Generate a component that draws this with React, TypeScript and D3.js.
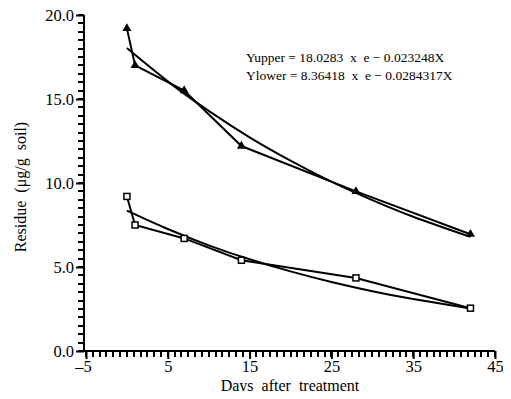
import { useEffect, useRef } from "react";
import * as d3 from "d3";

// measured residues (days, µg/g)
const days = [0, 1, 7, 14, 28, 42];
const upperVals = [19.2, 17.0, 15.5, 12.2, 9.5, 6.95];
const lowerVals = [9.2, 7.5, 6.7, 5.4, 4.35, 2.55];

// fitted curves
const fitDays = [0, 5, 10, 15, 20, 25, 30, 35, 42];
const upperFit = [18.03, 16.05, 14.29, 12.72, 11.33, 10.08, 8.98, 7.99, 6.79];
const lowerFit = [8.36, 7.26, 6.29, 5.46, 4.74, 4.11, 3.56, 3.09, 2.53];

const xTicks = [-5, 5, 15, 25, 35, 45];
const yTicks = [0, 5, 10, 15, 20];
const xMinorTicks = d3.range(0, 61).map(i => -5 + (i * 10) / 12);
const yMinorTicks = d3.range(0, 41).map(i => i * 0.5);

const equations = [
    "Yupper = 18.0283  x  e \u2212 0.023248X",
    "Ylower = 8.36418  x  e \u2212 0.0284317X"
];

const FONT = "'Liberation Serif', 'Times New Roman', serif";

export default function App() {
    const ref = useRef<SVGSVGElement>(null);

    useEffect(() => {
        const axisX = 84;
        const ink = "#000";

        const x = d3.scaleLinear().domain([-5, 45]).range([86, 495]);
        const y = d3.scaleLinear().domain([0, 20]).range([351, 15]);

        const svg = d3.select(ref.current)
            .style("font-family", FONT);
        svg.selectAll("*").remove();

        // minor ticks as single paths
        const yMinorPath = yMinorTicks
            .map(v => `M${axisX - 6},${Math.round(y(v))}H${axisX}`)
            .join("");
        svg.append("path")
            .attr("d", yMinorPath)
            .attr("stroke", ink)
            .attr("stroke-width", 2)
            .attr("fill", "none");

        const xMinorPath = xMinorTicks
            .map(v => `M${Math.round(x(v))},${y(0)}V${y(0) + 6}`)
            .join("");
        svg.append("path")
            .attr("d", xMinorPath)
            .attr("stroke", ink)
            .attr("stroke-width", 2)
            .attr("fill", "none");

        const yMajor = svg.append("g")
            .attr("transform", `translate(${axisX},0)`)
            .call(d3.axisLeft(y).tickValues(yTicks).tickSize(8).tickPadding(2).tickFormat(d3.format(".1f")));
        yMajor.select(".domain").remove();
        yMajor.selectAll("line").attr("stroke", ink).attr("stroke-width", 2);
        yMajor.selectAll("text")
            .attr("font-family", FONT)
            .attr("font-size", 16.5)
            .attr("fill", ink)
            .attr("dy", "0.35em");

        const xMajor = svg.append("g")
            .attr("transform", `translate(0,${y(0)})`)
            .call(d3.axisBottom(x).tickValues(xTicks).tickSize(8).tickPadding(1)
                .tickFormat(d => ((d as number) < 0 ? "\u2013" + Math.abs(d as number) : String(d))));
        xMajor.select(".domain").remove();
        xMajor.selectAll("line").attr("stroke", ink).attr("stroke-width", 2);
        xMajor.selectAll("text")
            .attr("font-family", FONT)
            .attr("font-size", 16.5)
            .attr("fill", ink)
            .attr("dx", d => ((d as number) < 0 ? -3 : 0));

        // axis lines
        svg.append("line")
            .attr("x1", axisX).attr("x2", axisX)
            .attr("y1", y(20)).attr("y2", y(0))
            .attr("stroke", ink).attr("stroke-width", 2);
        svg.append("line")
            .attr("x1", axisX).attr("x2", x(45))
            .attr("y1", y(0)).attr("y2", y(0))
            .attr("stroke", ink).attr("stroke-width", 2);

        // axis titles
        svg.append("text")
            .attr("x", 290)
            .attr("y", 391)
            .attr("text-anchor", "middle")
            .attr("font-size", 16)
            .attr("fill", ink)
            .style("white-space", "pre")
            .text("Days  after  treatment");

        svg.append("text")
            .attr("transform", "translate(26,187) rotate(-90)")
            .attr("text-anchor", "middle")
            .attr("font-size", 16)
            .attr("fill", ink)
            .style("white-space", "pre")
            .text("Residue  (\u03bcg/g  soil)");

        // equations
        svg.append("g")
            .selectAll("text")
            .data(equations)
            .join("text")
            .attr("x", 246)
            .attr("y", (d, i) => 62 + i * 18)
            .attr("font-size", 13.5)
            .attr("fill", ink)
            .style("white-space", "pre")
            .text(d => d);

        const line = d3.line<number>()
            .x((d, i) => x(days[i]))
            .y(d => y(d));

        const fitLine = d3.line<number>()
            .x((d, i) => x(fitDays[i]))
            .y(d => y(d))
            .curve(d3.curveNatural);

        [upperFit, lowerFit].forEach(vals => {
            svg.append("path")
                .attr("d", fitLine(vals))
                .attr("fill", "none")
                .attr("stroke", ink)
                .attr("stroke-width", 2);
        });

        [upperVals, lowerVals].forEach(vals => {
            svg.append("path")
                .attr("d", line(vals))
                .attr("fill", "none")
                .attr("stroke", ink)
                .attr("stroke-width", 2);
        });

        // triangles for upper
        const tri = d3.symbol().type(d3.symbolTriangle).size(36);
        svg.append("g")
            .selectAll("path")
            .data(upperVals)
            .join("path")
            .attr("transform", (d, i) => `translate(${x(days[i])},${y(d)})`)
            .attr("d", tri())
            .attr("fill", ink);

        // open squares for lower
        svg.append("g")
            .selectAll("rect")
            .data(lowerVals)
            .join("rect")
            .attr("x", (d, i) => x(days[i]) - 3)
            .attr("y", d => y(d) - 3)
            .attr("width", 6)
            .attr("height", 6)
            .attr("fill", "white")
            .attr("stroke", ink)
            .attr("stroke-width", 1.5);

        return () => {
            svg.selectAll("*").remove();
        };
    });

    return (
        <div style={{ margin: -8 }}>
            <svg ref={ref} width={511} height={399} style={{ display: "block" }} />
        </div>
    );
}
